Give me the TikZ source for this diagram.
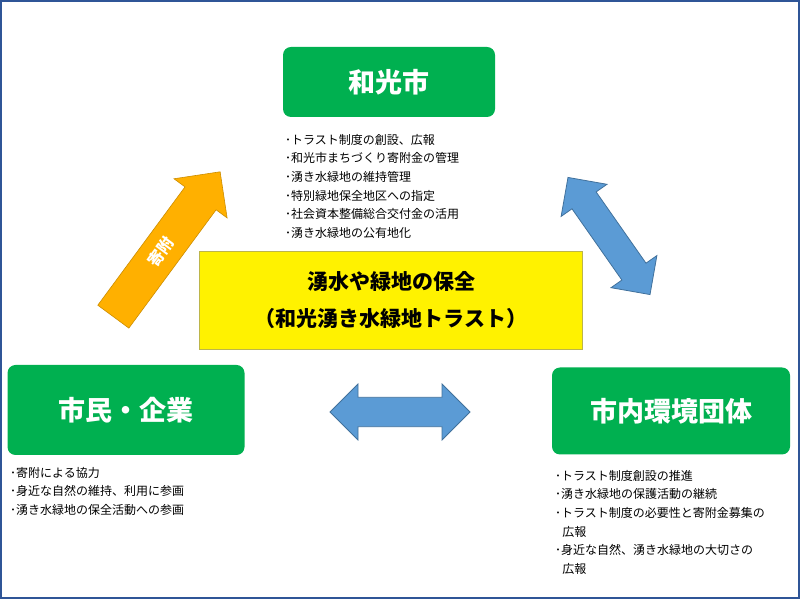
\documentclass[tikz,border=0pt]{standalone}
\usepackage{fontspec}
\setmainfont{Noto Sans CJK JP}
\usetikzlibrary{shapes.arrows}
\definecolor{boxgreen}{RGB}{0,176,80}
\definecolor{arrowblue}{RGB}{91,155,213}
\definecolor{arrowedge}{RGB}{65,113,156}
\definecolor{giftorange}{RGB}{255,176,0}
\definecolor{framebl}{RGB}{47,85,151}
\tikzset{
  actor/.style={draw=none, fill=boxgreen, rounded corners=8pt, text=white,
    font=\bfseries\fontsize{27}{30}\selectfont},
  duties/.style={anchor=north west, align=left, inner sep=0pt,
    font=\fontsize{12}{18.6}\selectfont},
  link/.style={double arrow, fill=arrowblue, draw=arrowedge, line width=0.8pt,
    double arrow head extend=13pt, inner sep=14pt}
}
\begin{document}
\begin{tikzpicture}[x=1pt,y=1pt]
    \useasboundingbox (0,0) rectangle (800,599);
    \draw[framebl, line width=2pt] (1,1) rectangle (799,598);

    \node[actor, minimum width=212, minimum height=70] (city) at (389,517) {和光市};
    \node[actor, minimum width=237, minimum height=90] (citizens) at (126,189) {市民・企業};
    \node[actor, minimum width=238, minimum height=87] (groups) at (671,188) {市内環境団体};

    \node[draw=olive!60, fill=yellow, minimum width=383, minimum height=98, align=center,
      font=\bfseries\fontsize{21}{37}\selectfont] (trust) at (391,299)
      {湧水や緑地の保全\\（和光湧き水緑地トラスト）};

    % duties
    \node[duties] (citylist) at (285,465) {･トラスト制度の創設、広報\\･和光市まちづくり寄附金の管理\\
      ･湧き水緑地の維持管理\\･特別緑地保全地区への指定\\･社会資本整備総合交付金の活用\\･湧き水緑地の公有地化};
    \node[duties] (citizenlist) at (10,132) {･寄附による協力\\･身近な自然の維持、利用に参画\\･湧き水緑地の保全活動への参画};
    \node[duties] (grouplist) at (555,129) {･トラスト制度創設の推進\\･湧き水緑地の保護活動の継続\\
      ･トラスト制度の必要性と寄附金募集の\\\hspace{0.6em}広報\\･身近な自然、湧き水緑地の大切さの\\\hspace{0.6em}広報};

    % arrows
    \node[single arrow, fill=giftorange, draw=giftorange!80!black, line width=0.6pt,
      single arrow head extend=12pt, minimum width=66, minimum height=180, inner sep=9pt,
      text=white, font=\bfseries\fontsize{16}{16}\selectfont, rotate=53.6] (gift) at (161,347) {寄附};
    \node[link, minimum width=56, minimum height=143, rotate=-55] (citylink) at (609,363) {};
    \node[link, minimum width=56, minimum height=140] (grouplink) at (400,187) {};
\end{tikzpicture}
\end{document}
